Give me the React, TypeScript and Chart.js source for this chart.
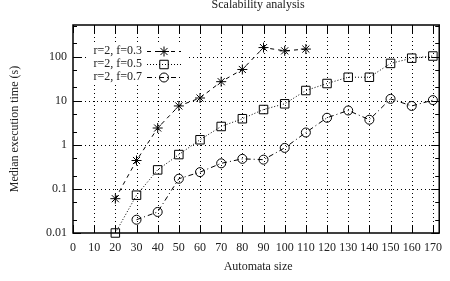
import React, { useEffect, useRef } from "react";
import { Chart, registerables } from "chart.js";
Chart.register(...registerables);

const TITLE = "Scalability analysis";
const X_TITLE = "Automata size";
const Y_TITLE = "Median execution time (s)";

const SERIES_LABELS = ["r=2, f=0.3", "r=2, f=0.5", "r=2, f=0.7"];

const SIZES_03 = [20, 30, 40, 50, 60, 70, 80, 90, 100, 110];
const TIMES_03 = [0.06, 0.44, 2.4, 7.6, 11.5, 27, 51, 160, 135, 148];

const SIZES_05 = [20, 30, 40, 50, 60, 70, 80, 90, 100, 110, 120, 130, 140, 150, 160, 170];
const TIMES_05 = [0.01, 0.072, 0.27, 0.6, 1.3, 2.6, 3.9, 6.3, 8.5, 17, 24.5, 34, 34, 70, 92, 103];

const SIZES_07 = [30, 40, 50, 60, 70, 80, 90, 100, 110, 120, 130, 140, 150, 160, 170];
const TIMES_07 = [0.02, 0.03, 0.17, 0.24, 0.38, 0.48, 0.46, 0.85, 1.9, 4.1, 6, 3.7, 11, 7.6, 10.3];

const X_TICKS = [0, 10, 20, 30, 40, 50, 60, 70, 80, 90, 100, 110, 120, 130, 140, 150, 160, 170];
const Y_MAJOR = [0.01, 0.1, 1, 10, 100];
const Y_MINOR = [0.02, 0.05, 0.2, 0.5, 2, 5, 20, 50, 200, 500];

const X_MIN = 0;
const X_MAX = 173;
const Y_MIN = 0.01;
const Y_MAX = 520;

const FONT = "'Liberation Serif', 'DejaVu Serif', serif";
const TEXT_COLOR = "#222";

const STYLES = [
  { dash: [4, 4], point: "star", radius: 5 },
  { dash: [1, 2], point: "rect", radius: 6 },
  { dash: [5, 3, 1, 3], point: "circle", radius: 4.5 },
];

function drawMarker(ctx: CanvasRenderingContext2D, style: string, r: number, x: number, y: number) {
  ctx.beginPath();
  if (style === "star") {
    ctx.moveTo(x - r, y); ctx.lineTo(x + r, y);
    ctx.moveTo(x, y - r); ctx.lineTo(x, y + r);
    const d = r * Math.SQRT1_2;
    ctx.moveTo(x - d, y - d); ctx.lineTo(x + d, y + d);
    ctx.moveTo(x - d, y + d); ctx.lineTo(x + d, y - d);
  } else if (style === "rect") {
    const s = r * Math.SQRT1_2;
    ctx.rect(x - s, y - s, 2 * s, 2 * s);
  } else {
    ctx.arc(x, y, r, 0, Math.PI * 2);
  }
  ctx.stroke();
}

const framePlugin = {
  id: "gnuplotFrame",
  beforeDatasetsDraw(chart: any) {
    const { ctx, chartArea: a, scales } = chart;
    const xs = scales.x;
    const ys = scales.y;
    ctx.save();
    ctx.strokeStyle = "#000";
    ctx.lineWidth = 1;
    ctx.setLineDash([1, 3]);
    X_TICKS.forEach((v) => {
      if (v === X_MIN) return;
      const px = Math.round(xs.getPixelForValue(v)) + 0.5;
      ctx.beginPath();
      ctx.moveTo(px, a.top);
      ctx.lineTo(px, a.bottom);
      ctx.stroke();
    });
    Y_MAJOR.forEach((v) => {
      if (v === Y_MIN) return;
      const py = Math.round(ys.getPixelForValue(v)) + 0.5;
      ctx.beginPath();
      ctx.moveTo(a.left, py);
      ctx.lineTo(a.right, py);
      ctx.stroke();
    });
    ctx.setLineDash([]);
    X_TICKS.forEach((v) => {
      const px = Math.round(xs.getPixelForValue(v)) + 0.5;
      ctx.beginPath();
      ctx.moveTo(px, a.bottom);
      ctx.lineTo(px, a.bottom - 8);
      ctx.moveTo(px, a.top);
      ctx.lineTo(px, a.top + 8);
      ctx.stroke();
    });
    const yTick = (v: number, len: number) => {
      const py = Math.round(ys.getPixelForValue(v)) + 0.5;
      if (py < a.top || py > a.bottom + 1) return;
      ctx.beginPath();
      ctx.moveTo(a.left, py);
      ctx.lineTo(a.left + len, py);
      ctx.moveTo(a.right, py);
      ctx.lineTo(a.right - len, py);
      ctx.stroke();
    };
    Y_MAJOR.forEach((v) => yTick(v, 8));
    Y_MINOR.forEach((v) => yTick(v, 4));
    ctx.lineWidth = 1.5;
    ctx.strokeRect(a.left, a.top, a.right - a.left, a.bottom - a.top);
    ctx.restore();
  },
  afterDatasetsDraw(chart: any) {
    const { ctx, chartArea: a } = chart;
    ctx.save();
    const lx0 = 89;
    const lx1 = 186;
    const rowsY = [50.5, 63.5, 77];
    ctx.fillStyle = "#fff";
    ctx.fillRect(lx0, rowsY[0] - 7, lx1 - lx0, rowsY[2] - rowsY[0] + 14);
    ctx.font = `12px ${FONT}`;
    ctx.textBaseline = "middle";
    ctx.textAlign = "right";
    SERIES_LABELS.forEach((lab, i) => {
      const y = rowsY[i];
      ctx.fillStyle = TEXT_COLOR;
      ctx.fillText(lab, 142, y);
      const st = STYLES[i];
      ctx.strokeStyle = "#000";
      ctx.lineWidth = 1;
      ctx.setLineDash(st.dash);
      ctx.beginPath();
      ctx.moveTo(147, Math.round(y) + 0.5);
      ctx.lineTo(181, Math.round(y) + 0.5);
      ctx.stroke();
      ctx.setLineDash([]);
      drawMarker(ctx, st.point, st.radius, 164, Math.round(y) + 0.5);
    });
    ctx.fillStyle = TEXT_COLOR;
    ctx.textAlign = "center";
    ctx.textBaseline = "middle";
    const cx = (a.left + a.right) / 2 + 2;
    ctx.fillText(TITLE, cx, 5);
    ctx.fillText(X_TITLE, cx, 267);
    ctx.translate(15, (a.top + a.bottom) / 2);
    ctx.rotate(-Math.PI / 2);
    ctx.fillText(Y_TITLE, 0, 0);
    ctx.restore();
  },
};

function makeDataset(label: string, xs: number[], ys: number[], i: number) {
  const st = STYLES[i];
  return {
    label,
    data: xs.map((x, k) => ({ x, y: ys[k] })),
    borderColor: "#000",
    borderWidth: 1,
    borderDash: st.dash,
    pointStyle: st.point,
    pointRadius: st.radius,
    pointBorderColor: "#000",
    pointBackgroundColor: "rgba(0,0,0,0)",
    pointBorderWidth: 1,
    fill: false,
    tension: 0,
    clip: false,
  };
}

export default function App() {
  const ref = useRef<HTMLCanvasElement>(null);
  useEffect(() => {
    document.body.style.margin = "0";
    const canvas = ref.current!;
    const chart = new Chart(canvas, {
      type: "line",
      data: {
        datasets: [
          makeDataset(SERIES_LABELS[0], SIZES_03, TIMES_03, 0),
          makeDataset(SERIES_LABELS[1], SIZES_05, TIMES_05, 1),
          makeDataset(SERIES_LABELS[2], SIZES_07, TIMES_07, 2),
        ] as any,
      },
      options: {
        animation: false,
        responsive: false,
        maintainAspectRatio: false,
        layout: { padding: { top: 25, right: 3, left: 0, bottom: 0 } },
        plugins: {
          legend: { display: false },
          title: { display: false },
          tooltip: { enabled: false },
        },
        scales: {
          x: {
            type: "linear",
            min: X_MIN,
            max: X_MAX,
            grid: { display: false, drawTicks: false },
            border: { display: false },
            afterBuildTicks: (s: any) => {
              s.ticks = X_TICKS.map((v) => ({ value: v }));
            },
            afterFit: (s: any) => {
              s.height = 48;
            },
            ticks: {
              padding: 8,
              autoSkip: false,
              maxRotation: 0,
              color: TEXT_COLOR,
              font: { family: FONT, size: 12 },
              callback: (v: any) => String(v),
            },
          },
          y: {
            type: "logarithmic",
            min: Y_MIN,
            max: Y_MAX,
            grid: { display: false, drawTicks: false },
            border: { display: false },
            afterBuildTicks: (s: any) => {
              s.ticks = Y_MAJOR.map((v) => ({ value: v }));
            },
            afterFit: (s: any) => {
              s.width = 73;
            },
            ticks: {
              padding: 6,
              autoSkip: false,
              color: TEXT_COLOR,
              font: { family: FONT, size: 12 },
              callback: (v: any) => String(v),
            },
          },
        },
      } as any,
      plugins: [framePlugin],
    });
    return () => chart.destroy();
  }, []);
  return (
    <div style={{ position: "absolute", left: 0, top: 0, width: 450, height: 281 }}>
      <canvas ref={ref} width={450} height={281} style={{ display: "block", width: 450, height: 281 }} />
    </div>
  );
}
